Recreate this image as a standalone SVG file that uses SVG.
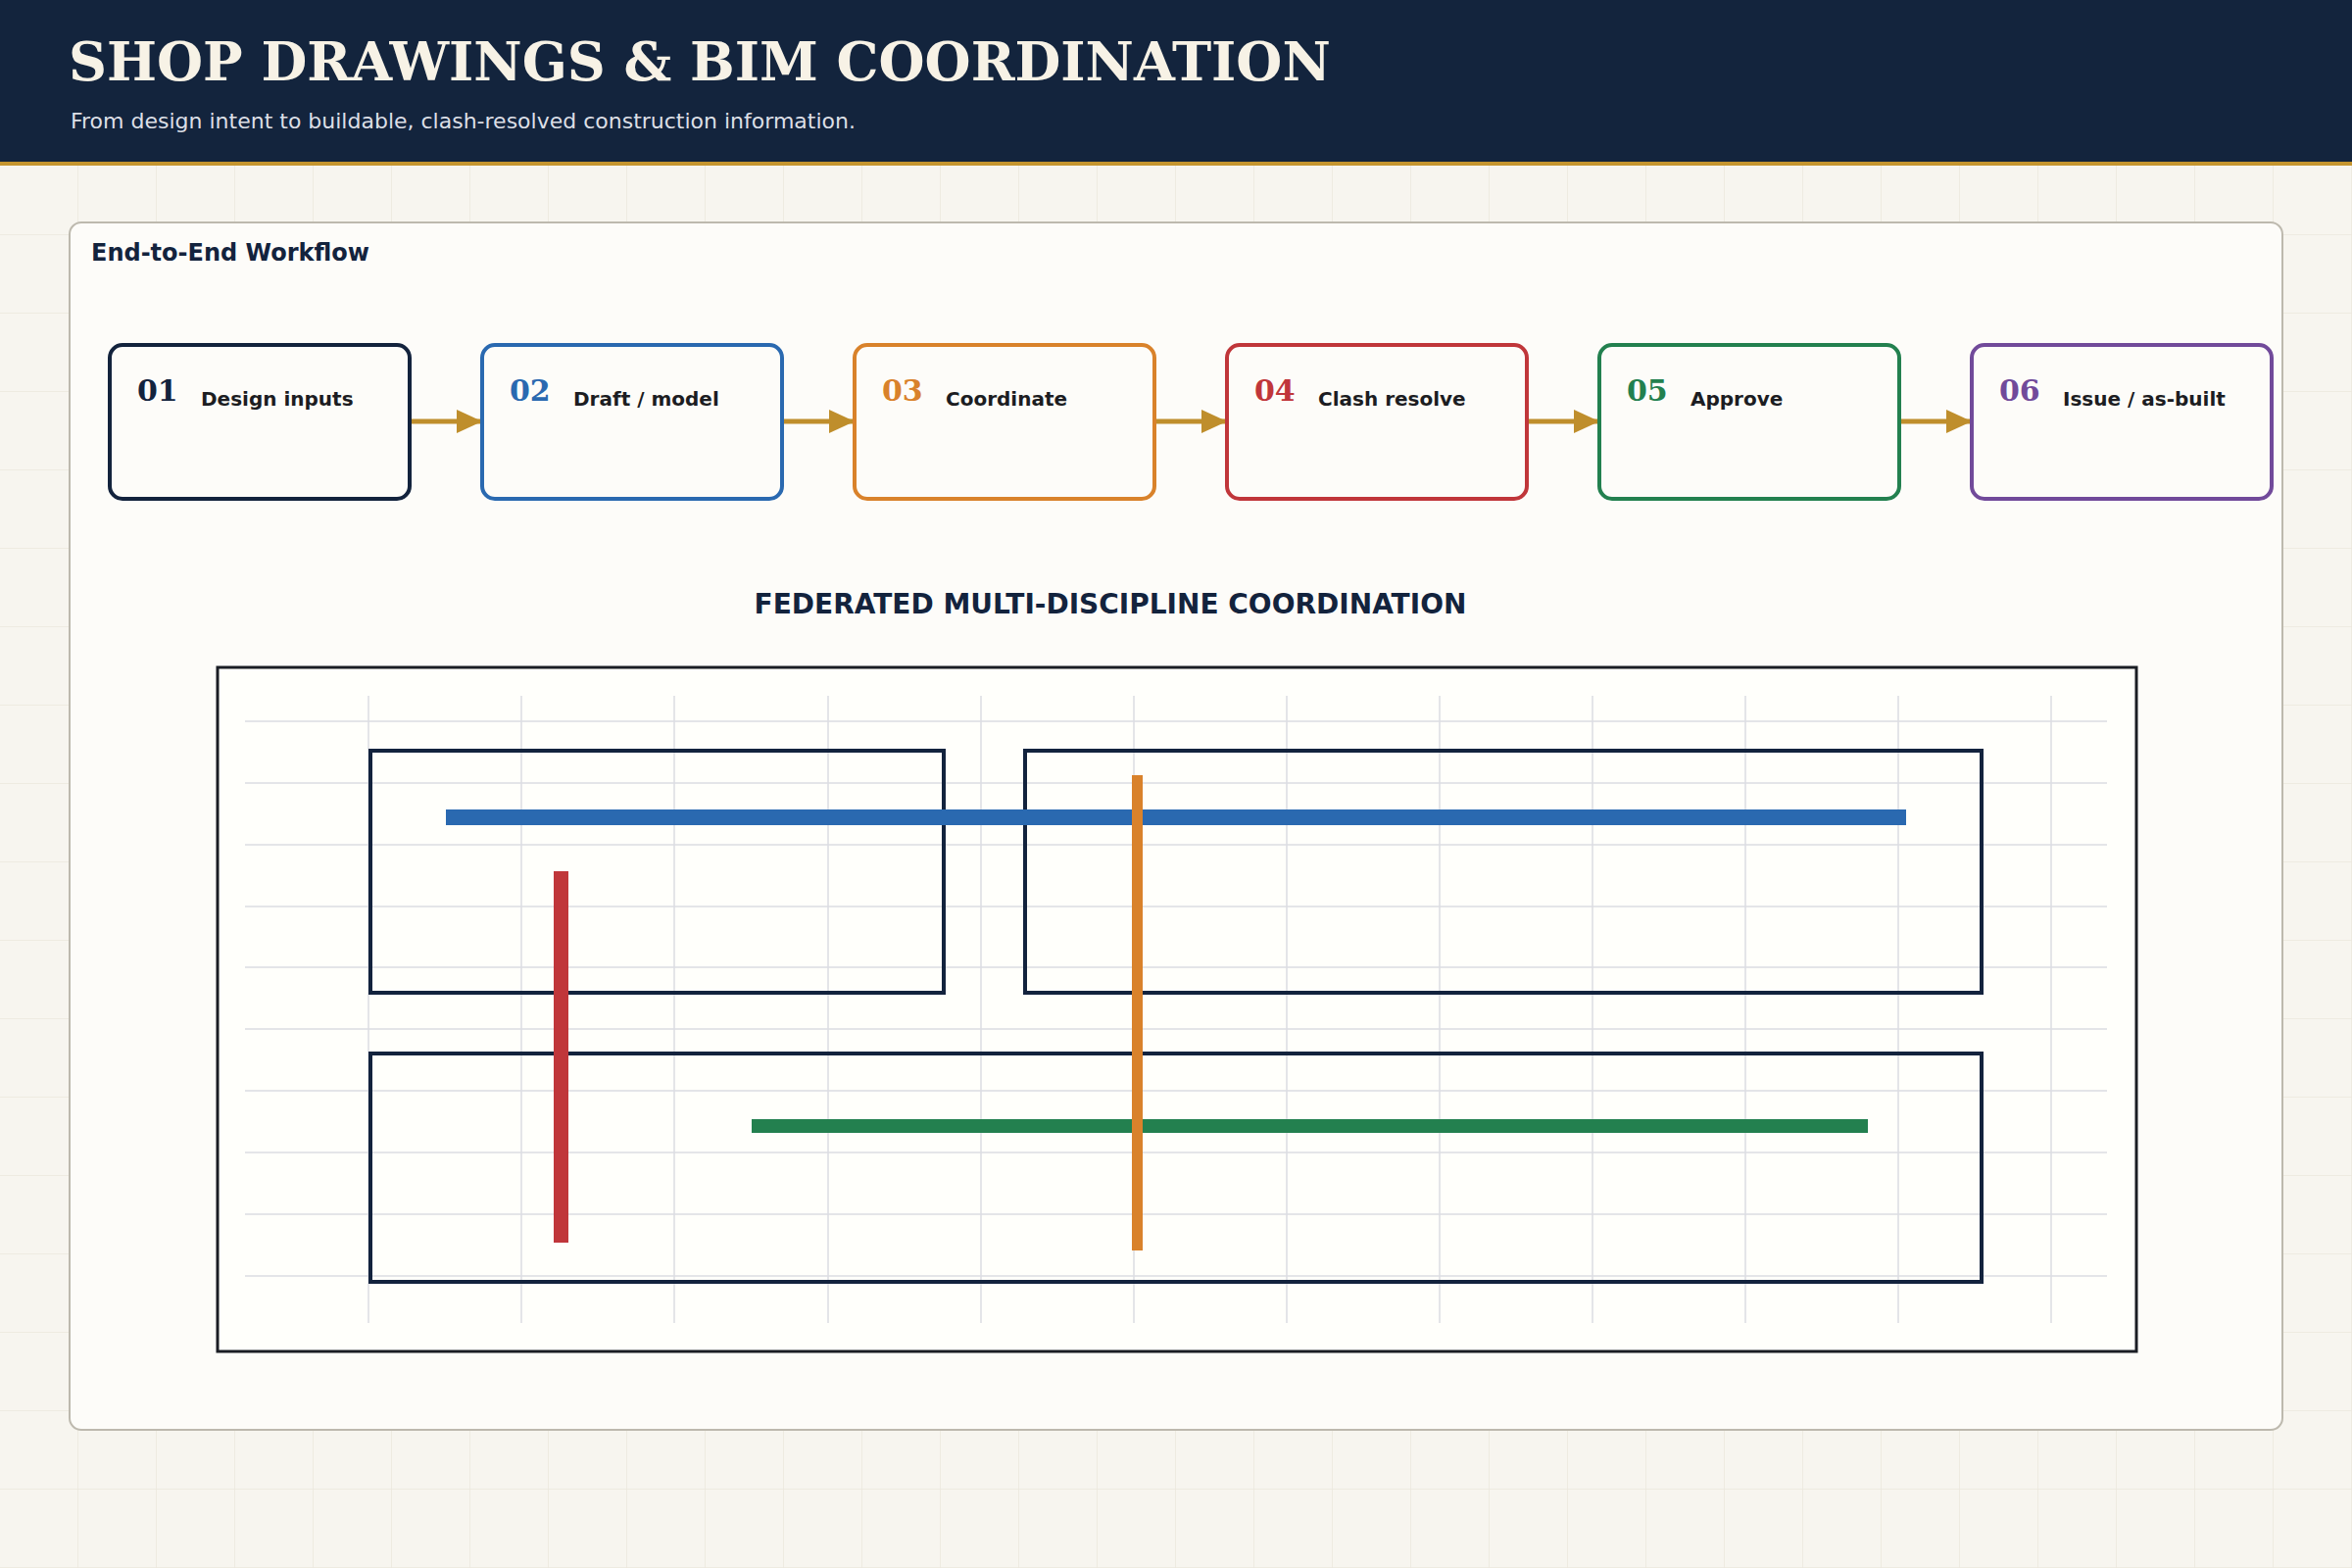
<svg xmlns="http://www.w3.org/2000/svg" width="2400" height="1600" viewBox="0 0 2400 1600">
<defs>
<pattern id="bg" width="80" height="80" patternUnits="userSpaceOnUse"><path d="M80 0V80M0 80H80" fill="none" stroke="#ebe7dd" stroke-width="1.5"/></pattern>
<marker id="ah" viewBox="0 0 26 24" refX="26" refY="12" markerWidth="26" markerHeight="24" markerUnits="userSpaceOnUse" orient="auto"><path d="M0 0L26 12L0 24Z" fill="#bf8e2c"/></marker>
</defs>
<style>
.node{fill:#fdfcf9;stroke-width:4}
.num{font-family:"DejaVu Serif",serif;font-weight:bold;font-size:30px}
.lbl{font-family:"DejaVu Sans",sans-serif;font-weight:bold;font-size:20px;fill:#1c1d22}
.con{stroke:#bf8e2c;stroke-width:5;fill:none}
.grid{stroke:#dcdde2;stroke-width:1.5}
.room{fill:none;stroke:#13233d;stroke-width:4}
</style>
<rect width="2400" height="1600" fill="#f7f5ef"/>
<rect width="2400" height="1600" fill="url(#bg)"/>
<rect width="2400" height="166" fill="#13243d"/>
<rect y="165" width="2400" height="4" fill="#c5952f"/>
<text x="70" y="82" font-family="DejaVu Serif,serif" font-weight="bold" font-size="54" fill="#f7f2e6">SHOP DRAWINGS &amp; BIM COORDINATION</text>
<text x="72" y="131" font-family="DejaVu Sans,sans-serif" font-size="22" fill="#dcdfe6">From design intent to buildable, clash-resolved construction information.</text>
<rect x="71" y="227" width="2258" height="1232" rx="12" fill="#fdfcf9" stroke="#bdb9ae" stroke-width="2"/>
<text x="93" y="266" font-family="DejaVu Sans,sans-serif" font-weight="bold" font-size="24" fill="#13233d">End-to-End Workflow</text>
<g id="connectors">
<line class="con" x1="418" y1="430" x2="492" y2="430" marker-end="url(#ah)"/>
<line class="con" x1="798" y1="430" x2="872" y2="430" marker-end="url(#ah)"/>
<line class="con" x1="1178" y1="430" x2="1252" y2="430" marker-end="url(#ah)"/>
<line class="con" x1="1558" y1="430" x2="1632" y2="430" marker-end="url(#ah)"/>
<line class="con" x1="1938" y1="430" x2="2012" y2="430" marker-end="url(#ah)"/>
</g>
<g id="n1"><rect class="node" x="112" y="352" width="306" height="157" rx="13" stroke="#13233d"/><text class="num" x="140" y="409" fill="#13233d">01</text><text class="lbl" x="205" y="414">Design inputs</text></g>
<g id="n2"><rect class="node" x="492" y="352" width="306" height="157" rx="13" stroke="#2a69b0"/><text class="num" x="520" y="409" fill="#2a69b0">02</text><text class="lbl" x="585" y="414">Draft / model</text></g>
<g id="n3"><rect class="node" x="872" y="352" width="306" height="157" rx="13" stroke="#d9822b"/><text class="num" x="900" y="409" fill="#d9822b">03</text><text class="lbl" x="965" y="414">Coordinate</text></g>
<g id="n4"><rect class="node" x="1252" y="352" width="306" height="157" rx="13" stroke="#c0363a"/><text class="num" x="1280" y="409" fill="#c0363a">04</text><text class="lbl" x="1345" y="414">Clash resolve</text></g>
<g id="n5"><rect class="node" x="1632" y="352" width="306" height="157" rx="13" stroke="#23804f"/><text class="num" x="1660" y="409" fill="#23804f">05</text><text class="lbl" x="1725" y="414">Approve</text></g>
<g id="n6"><rect class="node" x="2012" y="352" width="306" height="157" rx="13" stroke="#714a9a"/><text class="num" x="2040" y="409" fill="#714a9a">06</text><text class="lbl" x="2105" y="414">Issue / as-built</text></g>
<text x="1133" y="626" text-anchor="middle" font-family="DejaVu Sans,sans-serif" font-weight="bold" font-size="28" fill="#13233d">FEDERATED MULTI-DISCIPLINE COORDINATION</text>
<g id="model">
<rect x="222" y="681" width="1958" height="698" fill="#fffffb" stroke="#1a1d24" stroke-width="3"/>
<g class="grid">
<path d="M376 710V1350M532 710V1350M688 710V1350M845 710V1350M1001 710V1350M1157 710V1350M1313 710V1350M1469 710V1350M1625 710V1350M1781 710V1350M1937 710V1350M2093 710V1350"/>
<path d="M250 736H2150M250 799H2150M250 862H2150M250 925H2150M250 987H2150M250 1050H2150M250 1113H2150M250 1176H2150M250 1239H2150M250 1302H2150"/>
</g>
<rect class="room" x="378" y="766" width="585" height="247"/>
<rect class="room" x="1046" y="766" width="976" height="247"/>
<rect class="room" x="378" y="1075" width="1644" height="233"/>
<rect x="455" y="826" width="1490" height="16" fill="#2a69b0"/>
<rect x="767" y="1142" width="1139" height="14" fill="#23804f"/>
<rect x="565" y="889" width="15" height="379" fill="#c0363a"/>
<rect x="1155" y="791" width="11" height="485" fill="#d9822b"/>
</g>
</svg>
